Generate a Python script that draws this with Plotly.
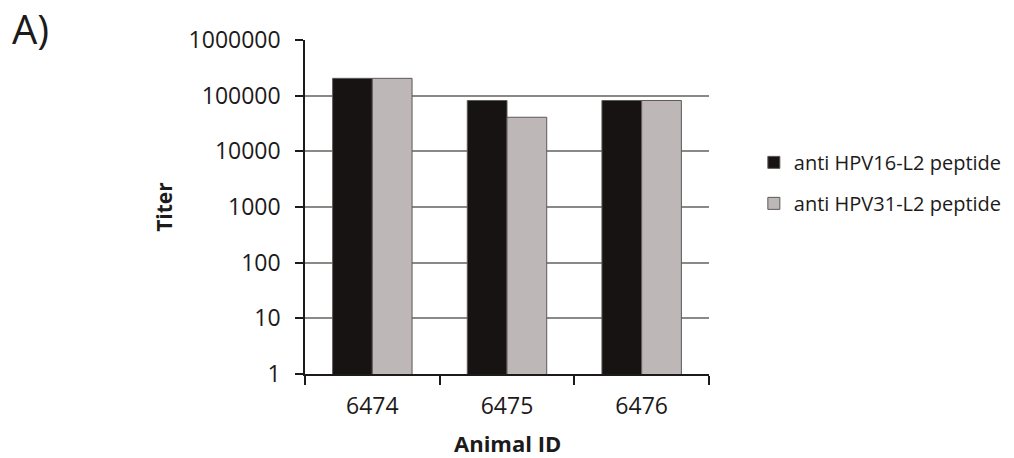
import plotly.graph_objects as go

animals = ["6474", "6475", "6476"]
hpv16 = [204800, 81920, 81920]
hpv31 = [204800, 40960, 81920]
names = ["anti HPV16-L2 peptide", "anti HPV31-L2 peptide"]
tick_vals = [1, 10, 100, 1000, 10000, 100000, 1000000]
tick_text = ["1", "10", "100", "1000", "10000", "100000", "1000000"]

FONT = "Open Sans"
INK = "#1c1a1a"

fig = go.Figure()
fig.add_trace(go.Bar(
    x=animals, y=hpv16, name=names[0], legendgroup="a",
    marker=dict(color="#171313", line=dict(color="#5e5858", width=1)),
))
fig.add_trace(go.Bar(
    x=animals, y=hpv31, name=names[1], legendgroup="b",
    marker=dict(color="#bdb7b7", line=dict(color="#5e5858", width=1)),
))

fig.update_layout(
    width=1014, height=458,
    margin=dict(l=305, r=305, t=40, b=84, autoexpand=False),
    paper_bgcolor="white", plot_bgcolor="white",
    barmode="group", bargap=0.41, bargroupgap=0,
    font=dict(family=FONT, color=INK, size=20),
    showlegend=True,
    legend=dict(
        x=1.111, y=0.692, xanchor="left", yanchor="top",
        font=dict(size=20, family=FONT, color=INK),
        tracegroupgap=12, itemwidth=30,
        bgcolor="rgba(0,0,0,0)",
    ),
    xaxis=dict(
        type="category", tickson="boundaries",
        ticks="outside", ticklen=9, tickwidth=1.5, tickcolor=INK,
        showline=True, linecolor=INK, linewidth=1.5,
        showgrid=False, ticklabelstandoff=11,
        tickfont=dict(size=23, family=FONT, color=INK),
    ),
    yaxis=dict(
        type="log", range=[0, 6],
        tickvals=tick_vals, ticktext=tick_text,
        ticks="outside", ticklen=8, tickwidth=1.5, tickcolor=INK,
        showline=True, linecolor=INK, linewidth=1.5,
        showgrid=True, gridcolor="#8c8888", gridwidth=1.5,
        zeroline=False, ticklabelstandoff=10,
        tickfont=dict(size=23, family=FONT, color=INK),
        title=dict(text="<b>Titer</b>", font=dict(size=21, family=FONT, color=INK), standoff=10),
    ),
)

# x-axis title, placed as a paper annotation under the tick labels
fig.add_annotation(
    text="<b>Animal ID</b>", xref="paper", yref="paper", x=0.5, y=-0.2066,
    xanchor="center", yanchor="middle", showarrow=False, borderpad=0,
    font=dict(size=22, family=FONT, color=INK),
)

# panel letter
fig.add_annotation(
    text="A)", xref="paper", yref="paper", x=-0.73, y=1.035,
    xanchor="left", yanchor="middle", showarrow=False,
    font=dict(size=40, family=FONT, color=INK),
)

fig.write_html("out.html")
